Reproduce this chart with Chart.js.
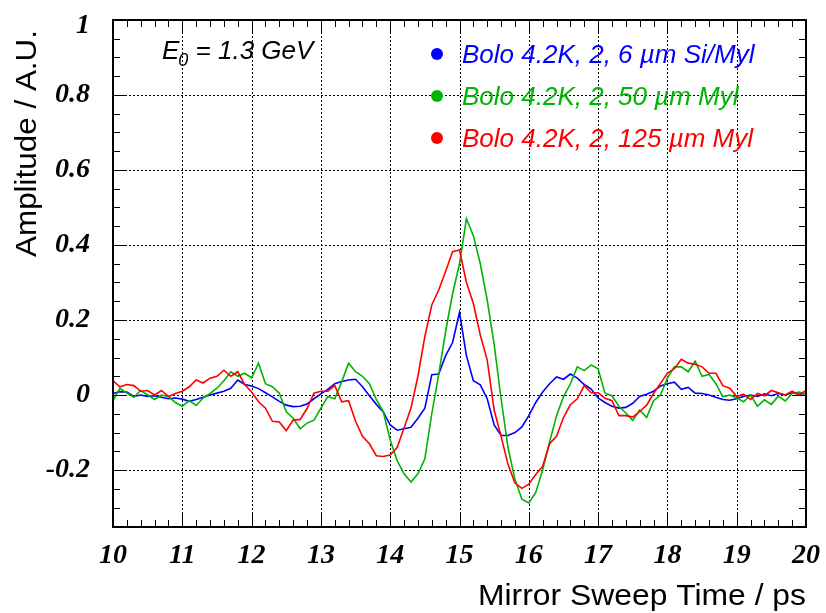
<!DOCTYPE html>
<html>
<head>
<meta charset="utf-8">
<script src="https://cdn.jsdelivr.net/npm/chart.js@4/dist/chart.umd.min.js"></script>
<style>
  body { margin: 0; background: #fff; }
  #wrap { width: 826px; height: 613px; }
</style>
</head>
<body>
<div id="wrap"><canvas id="chart" width="826" height="613"></canvas></div>
<script>
// sweep times (ps)
const times = [
  10.0, 10.1, 10.2, 10.3, 10.4, 10.5, 10.6, 10.7, 10.8, 10.9,
  11.0, 11.1, 11.2, 11.3, 11.4, 11.5, 11.6, 11.7, 11.8, 11.9,
  12.0, 12.1, 12.2, 12.3, 12.4, 12.5, 12.6, 12.7, 12.8, 12.9,
  13.0, 13.1, 13.2, 13.3, 13.4, 13.5, 13.6, 13.7, 13.8, 13.9,
  14.0, 14.1, 14.2, 14.3, 14.4, 14.5, 14.6, 14.7, 14.8, 14.9,
  15.0, 15.1, 15.2, 15.3, 15.4, 15.5, 15.6, 15.7, 15.8, 15.9,
  16.0, 16.1, 16.2, 16.3, 16.4, 16.5, 16.6, 16.7, 16.8, 16.9,
  17.0, 17.1, 17.2, 17.3, 17.4, 17.5, 17.6, 17.7, 17.8, 17.9,
  18.0, 18.1, 18.2, 18.3, 18.4, 18.5, 18.6, 18.7, 18.8, 18.9,
  19.0, 19.1, 19.2, 19.3, 19.4, 19.5, 19.6, 19.7, 19.8, 19.9,
  20.0
];

// Bolo 4.2K, 2, 6 um Si/Myl
const ampSiMyl = [
  0.004, 0.009, 0.008, -0.004, 0.000, -0.004, -0.002, -0.006, -0.010, -0.008,
  -0.011, -0.017, -0.012, -0.006, 0.000, 0.005, 0.010, 0.018, 0.040, 0.028,
  0.024, 0.017, 0.006, -0.005, -0.017, -0.027, -0.031, -0.030, -0.024, -0.010,
  0.003, 0.015, 0.030, 0.036, 0.040, 0.042, 0.022, -0.002, -0.025, -0.045,
  -0.080, -0.094, -0.090, -0.086, -0.062, -0.035, 0.054, 0.056, 0.105, 0.140,
  0.220, 0.105, 0.038, 0.027, -0.010, -0.080, -0.108, -0.108, -0.100, -0.085,
  -0.055, -0.020, 0.008, 0.030, 0.048, 0.042, 0.056, 0.045, 0.028, 0.016,
  -0.008, -0.020, -0.030, -0.035, -0.033, -0.022, -0.004, 0.002, 0.010, 0.024,
  0.030, 0.034, 0.015, 0.020, 0.005, 0.004, 0.000, -0.006, -0.012, -0.014,
  -0.010, -0.004, 0.000, -0.004, 0.003, -0.002, 0.004, 0.000, 0.006, 0.002,
  0.004
];

// Bolo 4.2K, 2, 50 um Myl
const amp50Myl = [
  -0.015, 0.018, 0.005, -0.006, 0.012, 0.000, -0.012, 0.000, -0.004, -0.020,
  -0.030, -0.015, -0.028, -0.008, 0.004, 0.018, 0.038, 0.062, 0.050, 0.058,
  0.046, 0.085, 0.030, 0.022, 0.005, -0.045, -0.062, -0.090, -0.075, -0.067,
  -0.035, -0.004, -0.010, 0.035, 0.085, 0.062, 0.050, 0.030, -0.012, -0.045,
  -0.120, -0.175, -0.210, -0.232, -0.210, -0.170, -0.050, 0.055, 0.170, 0.270,
  0.350, 0.470, 0.425, 0.350, 0.253, 0.135, -0.010, -0.140, -0.225, -0.278,
  -0.288, -0.260, -0.200, -0.125, -0.055, -0.005, 0.030, 0.075, 0.065, 0.080,
  0.070, 0.005, -0.002, -0.030, -0.048, -0.068, -0.040, -0.060, -0.015, 0.000,
  0.045, 0.075, 0.075, 0.062, 0.090, 0.050, 0.055, 0.030, -0.005, 0.000,
  -0.008, -0.018, 0.000, -0.030, -0.013, -0.025, -0.003, -0.016, 0.004, 0.008,
  0.002
];

// Bolo 4.2K, 2, 125 um Myl
const amp125Myl = [
  0.038, 0.022, 0.028, 0.025, 0.010, 0.012, 0.000, 0.012, -0.004, 0.004,
  0.010, 0.022, 0.040, 0.032, 0.045, 0.050, 0.066, 0.050, 0.062, 0.028,
  0.008, -0.018, -0.035, -0.070, -0.072, -0.095, -0.067, -0.065, -0.036, 0.005,
  0.010, 0.010, 0.025, -0.018, -0.015, -0.070, -0.110, -0.130, -0.162, -0.164,
  -0.160, -0.140, -0.088, -0.035, 0.050, 0.156, 0.240, 0.280, 0.330, 0.382,
  0.387, 0.300, 0.244, 0.160, 0.093, -0.040, -0.110, -0.185, -0.235, -0.249,
  -0.238, -0.212, -0.190, -0.130, -0.110, -0.060, -0.026, -0.010, 0.025, 0.006,
  0.006, -0.009, -0.015, -0.055, -0.055, -0.059, -0.044, -0.027, 0.004, 0.031,
  0.058, 0.070, 0.095, 0.085, 0.082, 0.075, 0.058, 0.058, 0.025, 0.018,
  -0.004, 0.002, -0.012, 0.004, -0.002, 0.012, 0.006, 0.000, 0.010, 0.000,
  0.012
];

const seriesNames = [
  'Bolo 4.2K, 2, 6 \u00b5m Si/Myl',
  'Bolo 4.2K, 2, 50 \u00b5m Myl',
  'Bolo 4.2K, 2, 125 \u00b5m Myl'
];
const seriesColors = ['#0000ff', '#00b400', '#ff0000'];
const xTicks = [10, 11, 12, 13, 14, 15, 16, 17, 18, 19, 20];
const yTicks = [-0.2, 0, 0.2, 0.4, 0.6, 0.8, 1];

const toPoints = arr => arr.map((v, i) => ({ x: times[i], y: v }));

const tickFont = 'bold italic 28px "Liberation Serif", "DejaVu Serif", serif';
const titleFont = '29px "Liberation Sans", Arial, sans-serif';
const legendFont = 'italic 26px "Liberation Sans", Arial, sans-serif';

// text stretched along its length to a given width (ROOT's Helvetica runs wide)
function stretchedText(ctx, text, x, y, width) {
    const w = ctx.measureText(text).width;
    ctx.save();
    ctx.translate(x, y);
    ctx.scale(width / w, 1);
    ctx.fillText(text, 0, 0);
    ctx.restore();
}

const framePlugin = {
    id: 'framePlugin',
    beforeDatasetsDraw(chart) {
        const { ctx, chartArea: a, scales: { x, y } } = chart;
        ctx.save();
        ctx.strokeStyle = '#000';
        ctx.lineWidth = 1;
        ctx.setLineDash([2, 2]);
        xTicks.forEach(v => {
            const px = Math.round(x.getPixelForValue(v)) + 0.5;
            if (px <= a.left + 2 || px >= a.right - 2) return;
            ctx.beginPath();
            ctx.moveTo(px, a.top);
            ctx.lineTo(px, a.bottom);
            ctx.stroke();
        });
        yTicks.forEach(v => {
            const py = Math.round(y.getPixelForValue(v)) + 0.5;
            if (py <= a.top + 2 || py >= a.bottom - 2) return;
            ctx.beginPath();
            ctx.moveTo(a.left, py);
            ctx.lineTo(a.right, py);
            ctx.stroke();
        });
        ctx.restore();
    },
    afterDatasetsDraw(chart) {
        const { ctx, chartArea: a, scales: { x, y } } = chart;
        ctx.save();
        ctx.strokeStyle = '#000';
        ctx.setLineDash([]);

        // ticks on all four sides
        ctx.lineWidth = 1;
        ctx.beginPath();
        for (let i = 0; i <= 50; i++) {
            const v = 10 + i * 0.2;
            const px = Math.round(x.getPixelForValue(v)) + 0.5;
            const len = i % 5 === 0 ? 14 : 7;
            ctx.moveTo(px, a.bottom); ctx.lineTo(px, a.bottom - len);
            ctx.moveTo(px, a.top); ctx.lineTo(px, a.top + len);
        }
        for (let i = 0; i <= 27; i++) {
            const v = -0.35 + i * 0.05;
            const py = Math.round(y.getPixelForValue(v)) + 0.5;
            const len = (i + 1) % 4 === 0 ? 14 : 7;
            ctx.moveTo(a.left, py); ctx.lineTo(a.left + len, py);
            ctx.moveTo(a.right, py); ctx.lineTo(a.right - len, py);
        }
        ctx.stroke();

        // frame
        ctx.lineWidth = 2;
        ctx.strokeRect(a.left, a.top, a.right - a.left, a.bottom - a.top);

        // tick labels
        ctx.fillStyle = '#000';
        ctx.font = tickFont;
        ctx.textAlign = 'center';
        ctx.textBaseline = 'middle';
        xTicks.forEach(v => {
            ctx.fillText(String(v), x.getPixelForValue(v), 556);
        });
        ctx.textAlign = 'right';
        yTicks.forEach(v => {
            const py = Math.max(y.getPixelForValue(v), 26);
            ctx.fillText(String(v), 90, py);
        });

        // axis titles
        ctx.font = titleFont;
        ctx.textAlign = 'right';
        ctx.textBaseline = 'alphabetic';
        stretchedText(ctx, 'Mirror Sweep Time / ps', a.right, 605, 328);
        ctx.save();
        ctx.translate(36, 30);
        ctx.rotate(-Math.PI / 2);
        stretchedText(ctx, 'Amplitude / A.U.', 0, 0, 227);
        ctx.restore();

        // beam energy label
        ctx.font = legendFont;
        ctx.textAlign = 'left';
        ctx.fillText('E', 162, 59);
        let w = ctx.measureText('E').width;
        ctx.font = 'italic 18px "Liberation Sans", Arial, sans-serif';
        ctx.fillText('0', 162 + w - 1, 66);
        const w0 = ctx.measureText('0').width;
        ctx.font = legendFont;
        ctx.fillText(' = 1.3 GeV', 162 + w + w0 - 1, 59);

        // legend
        seriesNames.forEach((name, i) => {
            const cy = 54 + i * 42;
            ctx.fillStyle = seriesColors[i];
            ctx.beginPath();
            ctx.arc(437, cy, 6, 0, Math.PI * 2);
            ctx.fill();
            ctx.fillText(name, 462, cy + 9);
        });
        ctx.restore();
    }
};

const ctx = document.getElementById('chart').getContext('2d');
new Chart(ctx, {
    type: 'line',
    data: {
        datasets: [
            { label: seriesNames[0], data: toPoints(ampSiMyl), borderColor: seriesColors[0], order: 2 },
            { label: seriesNames[1], data: toPoints(amp50Myl), borderColor: seriesColors[1], order: 1 },
            { label: seriesNames[2], data: toPoints(amp125Myl), borderColor: seriesColors[2], order: 0 }
        ]
    },
    options: {
        responsive: false,
        animation: false,
        layout: { padding: { left: 113, right: 20, top: 20, bottom: 86 } },
        elements: {
            point: { radius: 0 },
            line: { borderWidth: 1.6, tension: 0, fill: false }
        },
        scales: {
            x: { type: 'linear', min: 10, max: 20, display: false },
            y: { type: 'linear', min: -0.352, max: 1, display: false }
        },
        plugins: {
            legend: { display: false },
            tooltip: { enabled: false }
        }
    },
    plugins: [framePlugin]
});
</script>
</body>
</html>
